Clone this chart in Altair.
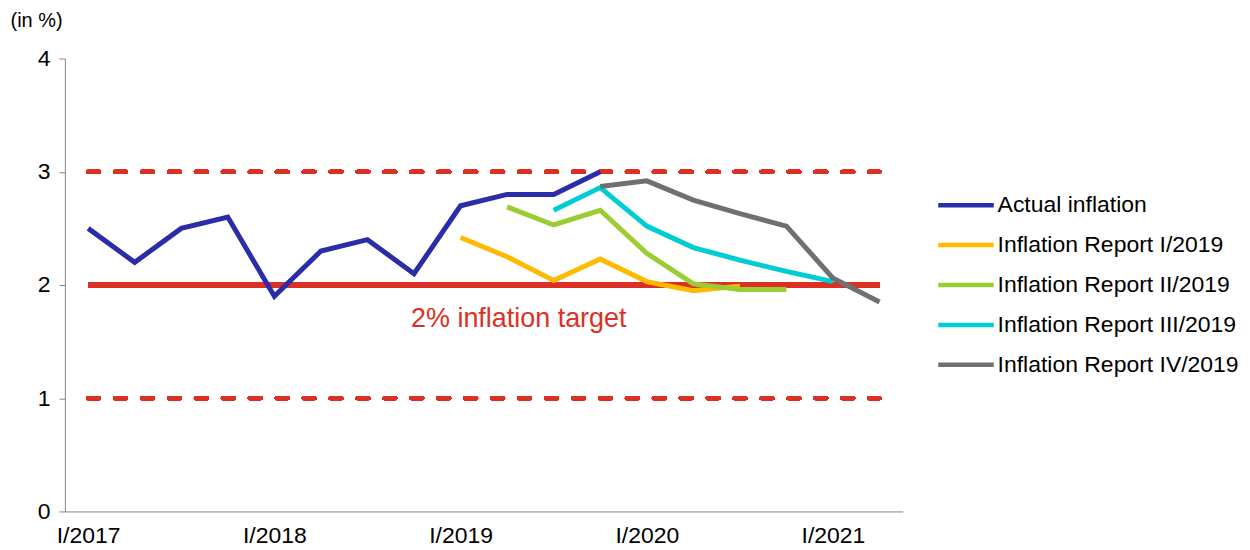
import altair as alt
import pandas as pd

# ---- data ----
series_names = [
    "Actual inflation",
    "Inflation Report I/2019",
    "Inflation Report II/2019",
    "Inflation Report III/2019",
    "Inflation Report IV/2019",
]
series_colors = ["#2b2ca8", "#ffb900", "#9acd32", "#00cdd2", "#6e7172"]

# quarter index 0 = I/2017
actual_q = [0, 1, 2, 3, 4, 5, 6, 7, 8, 9, 10, 11]
actual = [2.5, 2.2, 2.5, 2.6, 1.9, 2.3, 2.4, 2.1, 2.7, 2.8, 2.8, 3.0]

ir1_q = [8, 9, 10, 11, 12, 13, 14]
ir1 = [2.42, 2.25, 2.04, 2.23, 2.03, 1.95, 1.99]

ir2_q = [9, 10, 11, 12, 13, 14, 15]
ir2 = [2.69, 2.53, 2.66, 2.28, 2.01, 1.96, 1.96]

ir3_q = [10, 11, 12, 13, 14, 15, 16]
ir3 = [2.66, 2.86, 2.52, 2.33, 2.22, 2.12, 2.03]

ir4_q = [11, 12, 13, 14, 15, 16, 17]
ir4 = [2.87, 2.92, 2.75, 2.63, 2.52, 2.06, 1.85]

tick_values = [0, 4, 8, 12, 16]
y_ticks = [0, 1, 2, 3, 4]

target = 2.0
band_low, band_high = 1.0, 3.0
span_start, span_end = 0, 17

note_text = "2% inflation target"
note_x, note_y = 9.25, 1.7

rows = []
for name, qs, vals in zip(series_names,
                          [actual_q, ir1_q, ir2_q, ir3_q, ir4_q],
                          [actual, ir1, ir2, ir3, ir4]):
    for q, v in zip(qs, vals):
        rows.append({"q": q, "value": v, "series": name})
df = pd.DataFrame(rows)

FONT = "Liberation Sans"
RED = "#dc3024"
AXIS_GRAY = "#868686"

xscale = alt.Scale(domain=[-0.5, 17.5], nice=False, zero=False)
yscale = alt.Scale(domain=[0, 4], nice=False)

x_axis = alt.Axis(values=tick_values, labelExpr="'I/' + (2017 + datum.value / 4)",
                  ticks=False, grid=False, labelFontSize=23, labelFont=FONT,
                  labelColor="black", labelPadding=13, domainColor=AXIS_GRAY,
                  title=None, labelFlush=False)
y_axis = alt.Axis(values=y_ticks, format="d", grid=False, tickSize=6, tickColor=AXIS_GRAY,
                  domainColor=AXIS_GRAY, labelFontSize=23, labelFont=FONT,
                  labelColor="black", labelPadding=9, title="(in %)", titleAngle=0,
                  titleX=-55, titleY=-38, titleAlign="left", titleBaseline="middle",
                  titleFontSize=20, titleFont=FONT, titleFontWeight="normal",
                  titleColor="black")

base = alt.Chart(df)

target_rule = base.mark_rule(color=RED, strokeWidth=4.5).encode(
    x=alt.datum(span_start, scale=xscale, axis=x_axis),
    x2=alt.datum(span_end),
    y=alt.datum(target, scale=yscale, axis=y_axis),
)
band_rules = alt.layer(*[
    base.mark_rule(color=RED, strokeWidth=4, strokeDash=[11, 16], strokeCap="round").encode(
        x=alt.datum(span_start, scale=xscale),
        x2=alt.datum(span_end),
        y=alt.datum(v, scale=yscale),
    )
    for v in [band_low, band_high]
])

lines = base.mark_line(strokeWidth=5).encode(
    x=alt.X("q:Q", scale=xscale, axis=x_axis),
    y=alt.Y("value:Q", scale=yscale, axis=y_axis),
    color=alt.Color("series:N",
                    scale=alt.Scale(domain=series_names, range=series_colors),
                    legend=alt.Legend(title=None, orient="none", legendX=873, legendY=134,
                                      symbolType="M-1,0H4.3", symbolSize=441,
                                      symbolStrokeWidth=4.5, labelFontSize=23,
                                      labelFont=FONT, labelColor="black",
                                      labelOffset=36, rowPadding=15, labelLimit=500)),
    order=alt.Order("q:Q"),
)

note = alt.Chart(pd.DataFrame({"t": [note_text]})).mark_text(
    color=RED, fontSize=27, font=FONT, align="center", baseline="middle"
).encode(
    x=alt.datum(note_x, scale=xscale),
    y=alt.datum(note_y, scale=yscale),
    text="t:N",
)

chart = alt.layer(target_rule, band_rules, lines, note).properties(
    width=840, height=454,
    background="white",
    autosize=alt.AutoSizeParams(type="none"),
    padding={"left": 57, "top": 50, "right": 340, "bottom": 40},
).configure_view(stroke=None)

chart.save("out.html", embed_options={"renderer": "svg", "actions": False})
